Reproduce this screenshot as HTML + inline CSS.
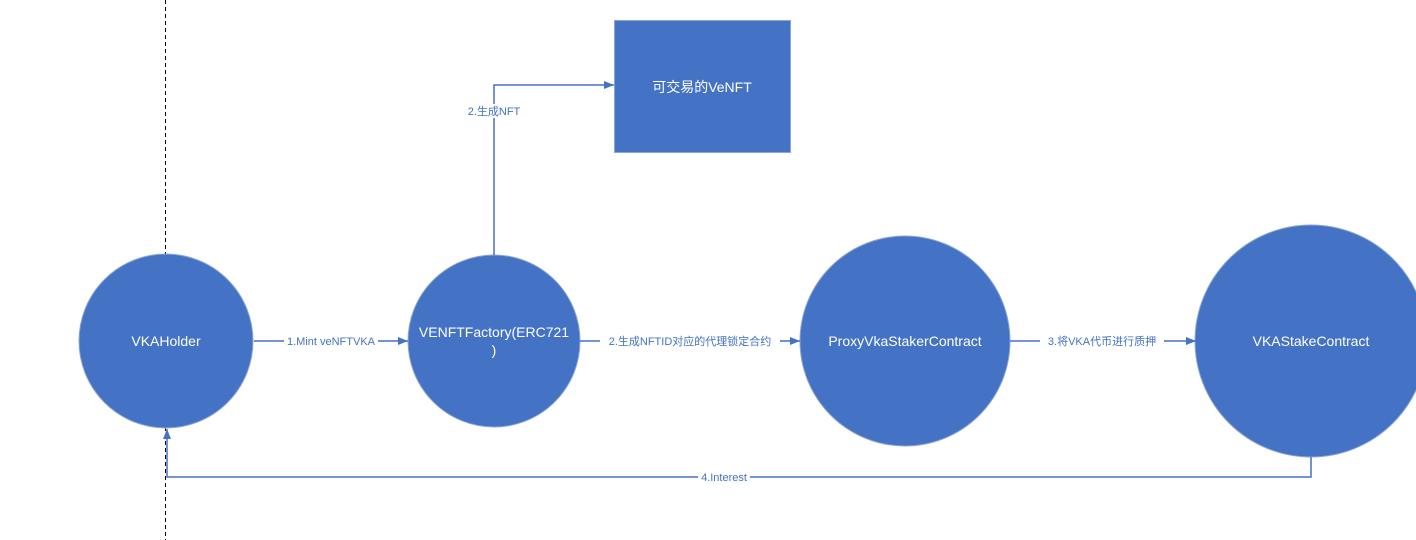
<!DOCTYPE html>
<html><head><meta charset="utf-8"><style>
html,body{margin:0;padding:0;background:#fff;width:1416px;height:540px;overflow:hidden}
text{font-family:"Liberation Sans","Noto Sans CJK SC",sans-serif}
</style></head><body>
<svg width="1416" height="540" viewBox="0 0 1416 540" xmlns="http://www.w3.org/2000/svg">
<defs><marker id="a" markerWidth="10" markerHeight="8" refX="10" refY="4" orient="auto" markerUnits="userSpaceOnUse"><path d="M0,0 L10,4 L0,8 z" fill="#4472C4"/></marker></defs>
<line x1="165.5" y1="0" x2="165.5" y2="540" stroke="#000" stroke-width="1" stroke-dasharray="4,3"/>
<g fill="#4472C4" stroke="#8EA6D4" stroke-width="1">
<circle cx="166" cy="341" r="87"/>
<circle cx="494" cy="341" r="86"/>
<circle cx="905" cy="341" r="105"/>
<circle cx="1311" cy="341" r="116"/>
<rect x="614.5" y="20.5" width="176" height="132"/>
</g>
<g stroke="#4472C4" stroke-width="1.5" fill="none">
<line x1="254" y1="341" x2="408" y2="341" marker-end="url(#a)"/>
<line x1="580" y1="341" x2="800" y2="341" marker-end="url(#a)"/>
<line x1="1010" y1="341" x2="1196" y2="341" marker-end="url(#a)"/>
<polyline points="494,255 494,85 614,85" marker-end="url(#a)"/>
<polyline points="1311,457 1311,477 167,477 167,429" marker-end="url(#a)"/>
</g>
<g font-size="11" fill="#4472C4" text-anchor="middle">
<rect x="284" y="334" width="94" height="14" fill="#fff"/>
<text x="331" y="345">1.Mint veNFTVKA</text>
<rect x="600" y="334" width="180" height="14" fill="#fff"/>
<text x="690" y="345">2.生成NFTID对应的代理锁定合约</text>
<rect x="1040" y="334" width="124" height="14" fill="#fff"/>
<text x="1102" y="345">3.将VKA代币进行质押</text>
<rect x="464" y="104" width="60" height="14" fill="#fff"/>
<text x="494" y="115">2.生成NFT</text>
<rect x="698" y="470" width="52" height="14" fill="#fff"/>
<text x="724" y="481">4.Interest</text>
</g>
<g font-size="14" fill="#fff" text-anchor="middle">
<text x="166" y="346">VKAHolder</text>
<text x="494" y="337">VENFTFactory(ERC721</text>
<text x="494" y="355">)</text>
<text x="905" y="346">ProxyVkaStakerContract</text>
<text x="1311" y="346">VKAStakeContract</text>
<text x="702" y="92">可交易的VeNFT</text>
</g>
</svg>
</body></html>
